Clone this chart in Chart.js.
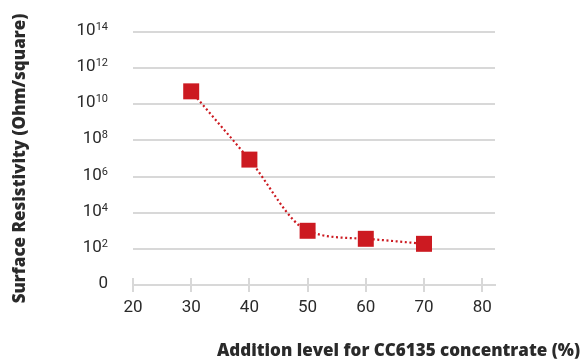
<!DOCTYPE html>
<html>
<head>
<meta charset="utf-8">
<script src="https://cdn.jsdelivr.net/npm/chart.js@4"></script>
<style>
    body { margin: 0; background: #fff; }
    #chart { display: block; }
</style>
</head>
<body>
<canvas id="chart" width="582" height="363"></canvas>
<script>
// values
const additionLevel = [30, 40, 50, 60, 70];
const resistivity = [5.2e10, 8.7e6, 1.0e3, 3.6e2, 1.9e2];

// axis ticks
const xTicks = [20, 30, 40, 50, 60, 70, 80];
const yExponents = [0, 2, 4, 6, 8, 10, 12, 14];

const red = '#cc1a21';
const gridGray = '#d8d8d8';
const textColor = '#2a2a2a';
const titleFont = "'Open Sans'";

// y labels as 10 + raised exponent, tick marks across the x axis, x title
const axisDecor = {
    id: 'axisDecor',
    afterDraw: (chart) => {
        const ctx = chart.ctx;
        const x = chart.scales.x;
        const y = chart.scales.y;
        ctx.save();

        // tick marks
        ctx.strokeStyle = gridGray;
        ctx.lineWidth = 2;
        xTicks.forEach((v) => {
            let px = Math.round(x.getPixelForValue(v));
            ctx.beginPath();
            ctx.moveTo(px, y.bottom - 7);
            ctx.lineTo(px, y.bottom + 7);
            ctx.stroke();
        });

        // y labels
        ctx.fillStyle = textColor;
        ctx.textBaseline = 'alphabetic';
        ctx.textAlign = 'left';
        const right = 108;
        yExponents.forEach((e) => {
            let py = y.getPixelForValue(Math.pow(10, e)) + 3;
            if (e === 0) {
                ctx.font = '17px Roboto';
                let w = ctx.measureText('0').width;
                ctx.fillText('0', right - w, py);
                return;
            }
            ctx.font = '11px Roboto';
            let ew = ctx.measureText(String(e)).width;
            ctx.font = '17px Roboto';
            let bw = ctx.measureText('10').width;
            ctx.fillText('10', right - ew - bw, py);
            ctx.font = '11px Roboto';
            ctx.fillText(String(e), right - ew, py - 5);
        });

        // x title
        ctx.font = '800 17px ' + titleFont;
        ctx.textAlign = 'right';
        ctx.textBaseline = 'middle';
        ctx.fillText('Addition level for CC6135 concentrate (%)', 580, 351);
        ctx.restore();
    }
};

const config = {
    type: 'line',
    data: {
        labels: additionLevel,
        datasets: [{
            data: additionLevel.map((v, i) => ({x: v, y: resistivity[i]})),
            borderColor: red,
            borderWidth: 2.2,
            borderDash: [2, 2.6],
            cubicInterpolationMode: 'monotone',
            pointStyle: 'rect',
            pointRadius: 11.3,
            pointHoverRadius: 11.3,
            pointBackgroundColor: red,
            pointBorderWidth: 0,
            fill: false
        }]
    },
    options: {
        responsive: false,
        animation: false,
        layout: {
            padding: {top: 32, right: 87, left: 0, bottom: 0}
        },
        plugins: {
            legend: {display: false},
            tooltip: {enabled: false}
        },
        scales: {
            x: {
                type: 'linear',
                min: 20,
                max: 82.2,
                afterBuildTicks: (s) => { s.ticks = xTicks.map((v) => ({value: v})); },
                afterFit: (s) => { s.height = 78; },
                grid: {display: false, drawTicks: false},
                border: {display: true, color: gridGray, width: 2},
                ticks: {
                    padding: 13,
                    color: textColor,
                    font: {family: 'Roboto', size: 17}
                }
            },
            y: {
                type: 'logarithmic',
                min: 1,
                max: 1e14,
                afterBuildTicks: (s) => { s.ticks = yExponents.map((e) => ({value: Math.pow(10, e)})); },
                afterFit: (s) => { s.width = 133; },
                grid: {color: gridGray, lineWidth: 2, drawTicks: false},
                border: {display: false},
                ticks: {display: false},
                title: {
                    display: true,
                    text: 'Surface Resistivity (Ohm/square)',
                    color: textColor,
                    font: {family: titleFont, size: 17, weight: '800'},
                    padding: {top: 10, bottom: 0}
                }
            }
        }
    },
    plugins: [axisDecor]
};

new Chart(document.getElementById('chart'), config);
</script>
</body>
</html>
